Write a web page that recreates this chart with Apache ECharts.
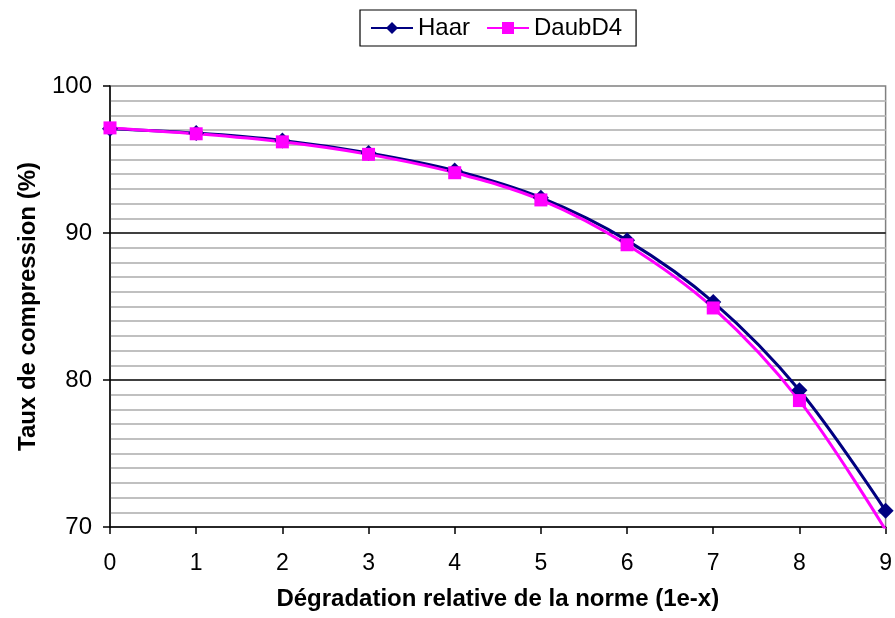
<!DOCTYPE html>
<html>
<head>
<meta charset="utf-8">
<script src="https://cdn.jsdelivr.net/npm/echarts@6/dist/echarts.min.js"></script>
<style>
html,body{margin:0;padding:0;background:#fff;}
#chart{width:895px;height:618px;}
</style>
</head>
<body>
<div id="chart"></div>
<script>
var categories = ['0','1','2','3','4','5','6','7','8','9'];
var haar = [97.1, 96.8, 96.3, 95.45, 94.25, 92.4, 89.5, 85.3, 79.3, 71.1];
var daubD4 = [97.15, 96.75, 96.2, 95.35, 94.1, 92.25, 89.2, 84.9, 78.6, 69.8];
var yTicks = [70, 80, 90, 100];

var chart = echarts.init(document.getElementById('chart'), null, {renderer:'canvas'});
var font = 'Liberation Sans, Arial, sans-serif';
chart.setOption({
  animation: false,
  backgroundColor: '#ffffff',
  legend: {
    left: 360, top: 10,
    padding: [6, 14, 6, 10],
    itemGap: 16,
    itemWidth: 42, itemHeight: 15,
    borderColor: '#000', borderWidth: 1.2,
    textStyle: {fontFamily: font, fontSize: 24, color: '#000'},
    data: ['Haar', 'DaubD4']
  },
  grid: {left: 110, right: 6, top: 86, bottom: 91, show: true, borderColor: '#808080', borderWidth: 1.5, backgroundColor: '#fff'},
  xAxis: {
    type: 'category', boundaryGap: false, data: categories,
    name: 'Dégradation relative de la norme (1e-x)', nameLocation: 'middle', nameGap: 60,
    nameTextStyle: {fontFamily: font, fontSize: 24, fontWeight: 'bold', color: '#000'},
    axisLine: {lineStyle: {color: '#000', width: 1.5}},
    axisTick: {show: true, length: 7, alignWithLabel: true, lineStyle: {color: '#000', width: 1.5}},
    axisLabel: {fontFamily: font, fontSize: 23, color: '#000', margin: 25},
    splitLine: {show: false}
  },
  yAxis: {
    type: 'value', min: yTicks[0], max: yTicks[yTicks.length-1], interval: 10,
    name: 'Taux de compression (%)', nameLocation: 'middle', nameGap: 70, nameRotate: 90,
    nameTextStyle: {fontFamily: font, fontSize: 24, fontWeight: 'bold', color: '#000'},
    axisLine: {show: true, lineStyle: {color: '#000', width: 1.5}},
    axisTick: {show: true, length: 7, lineStyle: {color: '#000', width: 1.5}},
    axisLabel: {fontFamily: font, fontSize: 24, color: '#000', margin: 18},
    splitLine: {show: true, showMinLine: false, showMaxLine: false, lineStyle: {color: '#000', width: 1.5}},
    minorTick: {show: false, splitNumber: 10},
    minorSplitLine: {show: true, lineStyle: {color: '#c0c0c0', width: 1.8}}
  },
  series: [
    {
      name: 'Haar', type: 'line', data: haar, smooth: 0.35, clip: true,
      symbol: 'diamond', symbolSize: 16,
      lineStyle: {color: '#000080', width: 3},
      itemStyle: {color: '#000080'}
    },
    {
      name: 'DaubD4', type: 'line', data: daubD4, smooth: 0.35, clip: true,
      symbol: 'rect', symbolSize: 13,
      lineStyle: {color: '#FF00FF', width: 3},
      itemStyle: {color: '#FF00FF'}
    }
  ]
});
</script>
</body>
</html>
